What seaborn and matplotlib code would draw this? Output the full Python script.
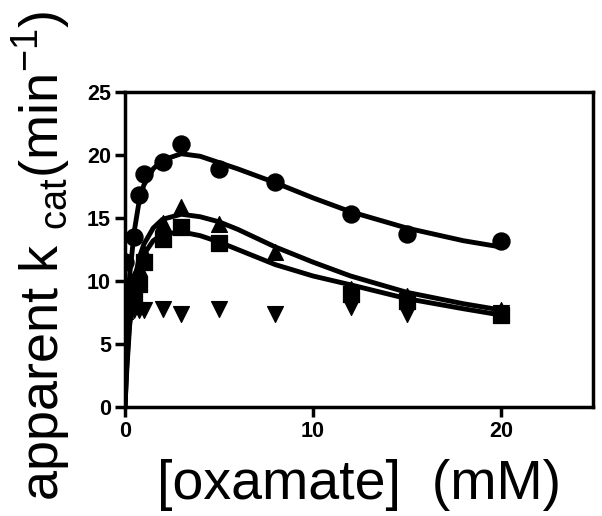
import matplotlib
matplotlib.use("Agg")
import matplotlib.pyplot as plt
import seaborn as sns
import pandas as pd

# ---- data ----
x_pts = [0, 0.5, 0.75, 1, 2, 3, 5, 8, 12, 15, 20]
circles = [11.5, 13.5, 16.8, 18.5, 19.45, 20.9, 18.9, 17.85, 15.35, 13.75, 13.2]
triangles = [7.6, 9.0, 11.0, 12.2, 14.6, 15.85, 14.55, 12.3, 9.4, 8.8, 7.7]
x_sq = [0, 0.5, 0.75, 1, 2, 3, 5, 12, 15, 20]
squares = [7.9, 8.8, 9.8, 11.5, 13.3, 14.3, 13.0, 9.0, 8.4, 7.3]
inv_triangles = [7.7, 7.7, 7.7, 7.7, 7.75, 7.4, 7.8, 7.4, 7.9, 7.4, 7.5]

# fitted curves
x_fit = [0, 0.1, 0.25, 0.5, 0.75, 1, 1.5, 2, 3, 4, 5, 6, 8, 10, 12, 15, 18, 20]
fit_circ = [0, 6.0, 10.5, 14.0, 16.3, 17.6, 18.9, 19.6, 20.1, 19.9, 19.4, 18.9, 17.8, 16.6, 15.5, 14.2, 13.2, 12.7]
fit_tri = [0, 3.5, 7.0, 10.0, 11.8, 12.9, 14.2, 14.9, 15.3, 15.1, 14.7, 14.1, 12.7, 11.5, 10.4, 9.1, 8.2, 7.7]
fit_sq = [0, 3.0, 6.5, 9.3, 11.0, 12.1, 13.2, 13.7, 13.9, 13.6, 13.1, 12.5, 11.3, 10.4, 9.7, 8.6, 7.8, 7.3]

x_ticks = [0, 10, 20]
y_ticks = [0, 5, 10, 15, 20, 25]

sns.set_theme(style="ticks")
plt.rcParams['font.family'] = ['Liberation Sans', 'DejaVu Sans']
plt.rcParams['mathtext.fontset'] = 'custom'
plt.rcParams['mathtext.rm'] = 'Liberation Sans'

fig = plt.figure(figsize=(6.02, 5.16), dpi=100)
ax = fig.add_axes([0.2076, 0.2112, 0.7774, 0.6105])

fits = pd.DataFrame({
    "x": x_fit * 3,
    "y": fit_circ + fit_tri + fit_sq,
    "s": ["c"] * len(x_fit) + ["t"] * len(x_fit) + ["q"] * len(x_fit),
})
sns.lineplot(data=fits, x="x", y="y", units="s", estimator=None, color="black",
             lw=3.5, ax=ax, sort=False)

ms = 130
sns.scatterplot(x=x_pts, y=inv_triangles, marker="v", s=ms, color="black", edgecolor="black", ax=ax, zorder=3)
sns.scatterplot(x=x_sq, y=squares, marker="s", s=ms, color="black", edgecolor="black", ax=ax, zorder=3)
sns.scatterplot(x=x_pts, y=triangles, marker="^", s=ms, color="black", edgecolor="black", ax=ax, zorder=3)
sns.scatterplot(x=x_pts, y=circles, marker="o", s=ms + 20, color="black", edgecolor="black", ax=ax, zorder=3)

ax.set_xlim(0, 24.9)
ax.set_ylim(0, 25)
ax.set_xticks(x_ticks)
ax.set_yticks(y_ticks)
for sp in ax.spines.values():
    sp.set_linewidth(2.5)
    sp.set_color("black")
ax.tick_params(width=2.5, length=7, direction="out", colors="black", labelsize=15.5, pad=3)
for lab in ax.get_xticklabels() + ax.get_yticklabels():
    lab.set_fontweight("bold")

ax.set_xlabel("[oxamate]  (mM)", fontsize=40, labelpad=12, color="black")
ax.set_ylabel(r"apparent k $_{\mathregular{cat}}$(min$^{\mathregular{-1}}$)", fontsize=39,
              color="black")
ax.yaxis.set_label_coords(-0.112, 0.48)

fig.savefig("out.png", dpi=100)
